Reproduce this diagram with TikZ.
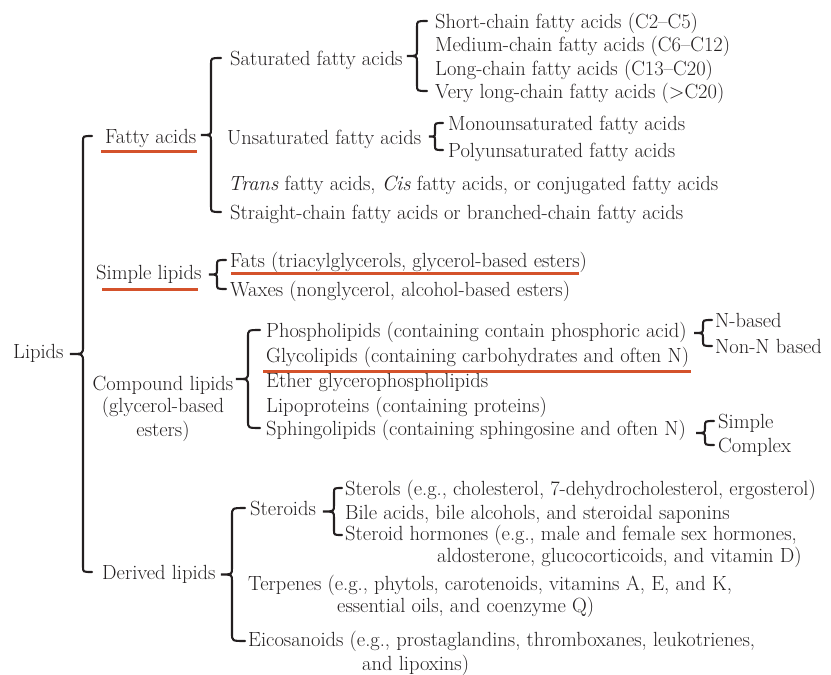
\documentclass[tikz,border=0pt]{standalone}
\usepackage{fontspec}
\usepackage{tikz}
\usetikzlibrary{calc}
\definecolor{ink}{HTML}{231F20}
\definecolor{redline}{HTML}{D4522B}
\tikzset{
	txt/.style={anchor=base west, inner sep=0pt, text=ink},
	brc/.style 2 args={draw=ink, line width=2.1pt, line cap=round, to path={
		let \p1=(\tikztostart), \p2=(\tikztotarget), \p3=($(\tikztostart)!.5!(\tikztotarget)$) in
		.. controls (\x1-#1,\y1) .. (\x1-#1,\y1+0.6*#1)
		-- (\x1-#1,\y3-0.6*#2) .. controls (\x1-#1,\y3) .. (\x1-#1-#2,\y3)
		.. controls (\x1-#1,\y3) .. (\x1-#1,\y3+0.6*#2)
		-- (\x1-#1,\y2-0.6*#1) .. controls (\x1-#1,\y2) .. (\x2,\y2)
	}},
	uline/.style={draw=redline, line width=3pt},
}

\begin{document}
\begin{tikzpicture}[x=1pt, y=-1pt, font=\fontsize{20.5}{20}\selectfont\addfontfeatures{FakeBold=0.6}]
			%%%%% START %%%%%
			\useasboundingbox (0,0) rectangle (831,675);
			
			\node[txt] (lipids) at (13,358) {Lipids};
			
			\node[txt] (fatty) at (105,143) {Fatty acids};
			\node[txt] (simple) at (96,279) {Simple lipids};
			\node[txt, anchor=base, align=center] (compound) at (163,436) {Compound lipids\\[2pt](glycerol-based\\[2pt]esters)};
			\node[txt] (derived) at (102,579) {Derived lipids};
			
			\node[txt] (sat) at (230,65) {Saturated fatty acids};
			\node[txt] (unsat) at (227,144) {Unsaturated fatty acids};
			\node[txt] (trans) at (228,190) {\textit{Trans} fatty acids, \textit{Cis} fatty acids, or conjugated fatty acids};
			\node[txt] (straight) at (230,219) {Straight-chain fatty acids or branched-chain fatty acids};
			
			\node[txt] (short) at (435,28) {Short-chain fatty acids (C2–C5)};
			\node[txt] (medium) at (435,51) {Medium-chain fatty acids (C6–C12)};
			\node[txt] (long) at (435,75) {Long-chain fatty acids (C13–C20)};
			\node[txt] (vlong) at (435,98) {Very long-chain fatty acids (>C20)};
			
			\node[txt] (mono) at (448,130) {Monounsaturated fatty acids};
			\node[txt] (poly) at (448,157) {Polyunsaturated fatty acids};
			
			\node[txt] (fats) at (230,267) {Fats (triacylglycerols, glycerol-based esters)};
			\node[txt] (waxes) at (230,296) {Waxes (nonglycerol, alcohol-based esters)};
			
			\node[txt] (phospho) at (266,337) {Phospholipids (containing contain phosphoric acid)};
			\node[txt] (glyco) at (266,362) {Glycolipids (containing carbohydrates and often N)};
			\node[txt] (ether) at (266,387) {Ether glycerophospholipids};
			\node[txt] (lipo) at (266,412) {Lipoproteins (containing proteins)};
			\node[txt] (sphingo) at (266,435) {Sphingolipids (containing sphingosine and often N)};
			
			\node[txt] (nbased) at (715,327) {N-based};
			\node[txt] (nonn) at (715,353) {Non-N based};
			\node[txt] (simp) at (718,428) {Simple};
			\node[txt] (complex) at (718,452) {Complex};
			
			\node[txt] (steroids) at (250,515) {Steroids};
			\node[txt, align=left] (terpenes) at (248,612) {Terpenes (e.g., phytols, carotenoids, vitamins A, E, and K,\\\hspace*{89pt}essential oils, and coenzyme Q)};
			\node[txt, align=left] (eico) at (248,670) {Eicosanoids (e.g., prostaglandins, thromboxanes, leukotrienes,\\[2pt]\hspace*{114pt}and lipoxins)};
			
			\node[txt] (sterols) at (345,495) {Sterols (e.g., cholesterol, 7-dehydrocholesterol, ergosterol)};
			\node[txt] (bile) at (345,519) {Bile acids, bile alcohols, and steroidal saponins};
			\node[txt, align=left] (hormones) at (345,562) {Steroid hormones (e.g., male and female sex hormones,\\\hspace*{92pt}aldosterone, glucocorticoids, and vitamin D)};
			
			%%%%% BRACES %%%%%
			\draw[brc={9pt}{13pt}] ([shift={(-10pt,7pt)}]derived.base west) to ([shift={(-13pt,7pt)}]fatty.base west);
			\draw[brc={10pt}{10pt}] ([shift={(-9pt,7pt)}]straight.base west) to ([shift={(-9pt,7pt)}]sat.base west);
			\draw[brc={10pt}{10pt}] ([shift={(-8pt,7pt)}]vlong.base west) to ([shift={(-8pt,7pt)}]short.base west);
			\draw[brc={8pt}{6pt}] ([shift={(-5pt,7pt)}]poly.base west) to ([shift={(-5pt,7pt)}]mono.base west);
			\draw[brc={9pt}{8pt}] ([shift={(-4pt,7pt)}]waxes.base west) to ([shift={(-4pt,7pt)}]fats.base west);
			\draw[brc={12pt}{12pt}] ([shift={(-6pt,7pt)}]sphingo.base west) to ([shift={(-6pt,7pt)}]phospho.base west);
			\draw[brc={9pt}{9pt}] ([shift={(-3pt,7pt)}]nonn.base west) to ([shift={(-3pt,7pt)}]nbased.base west);
			\draw[brc={9pt}{9pt}] ([shift={(-4pt,7pt)}]complex.base west) to ([shift={(-4pt,7pt)}]simp.base west);
			\draw[brc={13pt}{11pt}] ([shift={(-3pt,29pt)}]eico.base west) to ([shift={(-5pt,7pt)}]steroids.base west);
			\draw[brc={8pt}{11pt}] ([shift={(-3pt,27pt)}]hormones.base west) to ([shift={(-3pt,7pt)}]sterols.base west);
			
			%%%%% UNDERLINES %%%%%
			\draw[uline] ([shift={(-4pt,-8pt)}]fatty.base west) -- ([shift={(1pt,-8pt)}]fatty.base east);
			\draw[uline] ([shift={(6pt,-10pt)}]simple.base west) -- ([shift={(-4pt,-10pt)}]simple.base east);
			\draw[uline] ([shift={(1pt,-6pt)}]fats.base west) -- ([shift={(-8pt,-6pt)}]fats.base east);
			\draw[uline] ([shift={(-3pt,-9pt)}]glyco.base west) -- ([shift={(2pt,-9pt)}]glyco.base east);
			
			%%%%% END %%%%%
\end{tikzpicture}
\end{document}
